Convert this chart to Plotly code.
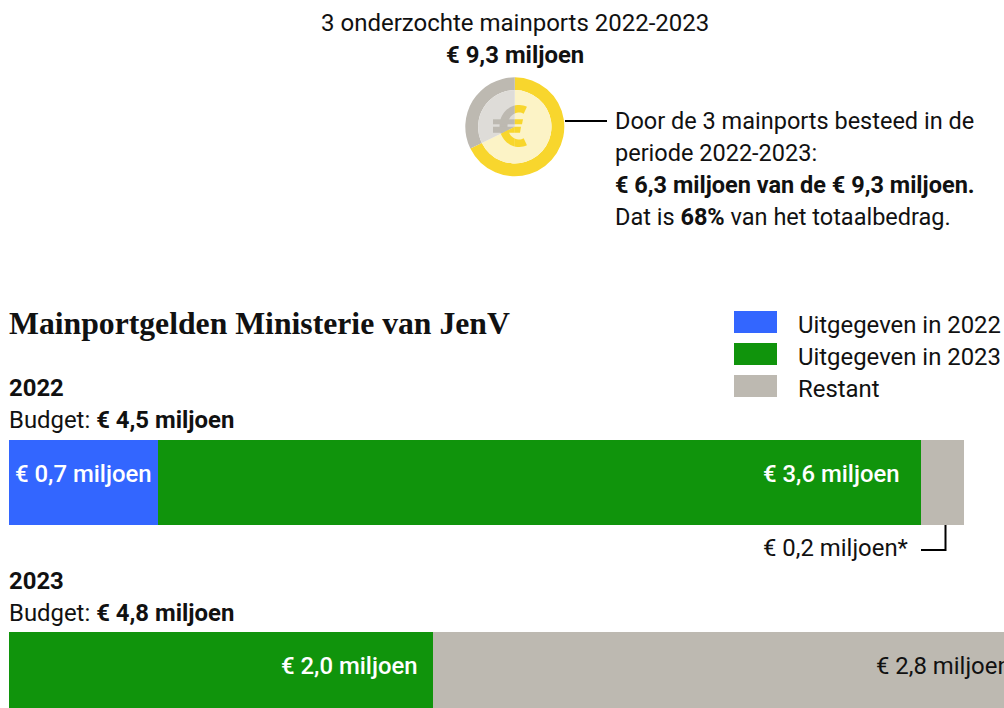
import math
import plotly.graph_objects as go

W, H = 1004, 708
years = ["2022", "2023"]
spent_2022 = [0.7, None]
spent_2023 = [3.6, 2.0]
remaining = [0.2, 2.8]
budgets = ["4,5", "4,8"]
coin_values = [6.3, 3.0]
coin_labels = ["Besteed", "Restant"]
legend_names = ["Uitgegeven in 2022", "Uitgegeven in 2023", "Restant"]

BLUE, GREEN, GREY = "#3366ff", "#10940c", "#bdb9b1"
YEL, LYEL, LGREY = "#f8d62d", "#fcf3c6", "#dedcd8"
INK = "#111111"
FONT = "Roboto"
FS = 23.9
FP = 23.5

PXU = 212.2       # pixels per million
X0 = 9
Y0, DY, BARH = 482.5, 192, 85
CX, CY, R, RI = 514.8, 126.8, 49.5, 36.7


def fmt(v):
    return f"€ {v:.1f} miljoen".replace(".", ",")


def px(x):
    return x / W


def py(y):
    return 1 - y / H


fig = go.Figure()
for name, vals, col in zip(legend_names, [spent_2022, spent_2023, remaining], [BLUE, GREEN, GREY]):
    fig.add_trace(go.Bar(y=years, x=vals, name=name, orientation="h", marker=dict(color=col, line_width=0),
                         width=BARH / DY, hoverinfo="skip", showlegend=False))

fig.add_trace(go.Pie(values=coin_values, labels=coin_labels, hole=RI / R, sort=False, direction="clockwise", rotation=0,
                     marker=dict(colors=[YEL, GREY], line_width=0), textinfo="none", hoverinfo="skip", showlegend=False,
                     domain=dict(x=[px(CX - R), px(CX + R)], y=[py(CY + R), py(CY - R)])))
fig.add_trace(go.Pie(values=coin_values, labels=coin_labels, sort=False, direction="clockwise", rotation=0,
                     marker=dict(colors=[LYEL, LGREY], line_width=0), textinfo="none", hoverinfo="skip", showlegend=False,
                     domain=dict(x=[px(CX - RI), px(CX + RI)], y=[py(CY + RI), py(CY - RI)])))

ann = []


def text(x, y, s, size=FS, anchor="left", color=INK, family=FONT):
    ann.append(dict(x=px(x), y=py(y), xref="paper", yref="paper", text=s, showarrow=False, xanchor=anchor,
                    yanchor="middle", font=dict(size=size, color=color, family=family), borderpad=0, borderwidth=0))


def bar_label(xval, yidx, s, anchor, shift, color, weight=400):
    ann.append(dict(x=xval, y=yidx, xref="x", yref="y", text=s, showarrow=False, xanchor=anchor, xshift=shift,
                    yanchor="middle", yshift=8.5, font=dict(size=FS, color=color, family=FONT, weight=weight)))


text(CX, 23, "3 onderzochte mainports 2022-2023", anchor="center", size=24)
text(CX, 55, "<b>€ 9,3 miljoen</b>", anchor="center")
text(615, 121, "Door de 3 mainports besteed in de", size=FP)
text(615, 153, "periode 2022-2023:", size=FP)
text(615, 185, "<b>€ 6,3 miljoen van de € 9,3 miljoen.</b>", size=FP)
text(615, 217, "Dat is <b>68%</b> van het totaalbedrag.", size=FP)
text(9, 323, "<b>Mainportgelden Ministerie van JenV</b>", size=31.7, family="Liberation Serif")
for name, y in zip(legend_names, [325, 357, 389]):
    text(798, y, name)
text(9, 388, f"<b>{years[0]}</b>")
text(9, 420, f"Budget: <b>€ {budgets[0]} miljoen</b>")
text(9, 581, f"<b>{years[1]}</b>")
text(9, 613, f"Budget: <b>€ {budgets[1]} miljoen</b>")
text(908, 548, fmt(remaining[0]) + "*", anchor="right")

bar_label(spent_2022[0] / 2, 0, fmt(spent_2022[0]), "center", 0, "white", 500)
bar_label(spent_2022[0] + spent_2023[0], 0, fmt(spent_2023[0]), "right", -19, "white", 500)
bar_label(spent_2023[1], 1, fmt(spent_2023[1]), "right", -13, "white", 500)
bar_label(spent_2023[1], 1, fmt(remaining[1]), "left", 441, INK)

shapes = []


def pshape(kind, x0, y0, x1, y1, **kw):
    shapes.append(dict(type=kind, xref="paper", yref="paper", x0=px(x0), x1=px(x1), y0=py(y0), y1=py(y1), **kw))


for col, y in zip([BLUE, GREEN, GREY], [311, 343, 375]):
    pshape("rect", 734, y, 777, y + 22, fillcolor=col, line_width=0)
pshape("line", 565, 121, 607, 121, line=dict(color="black", width=2))
pshape("line", 921, 550, 945.5, 550, line=dict(color="black", width=2))
pshape("line", 945.5, 525, 945.5, 551, line=dict(color="black", width=2))

# Euro icon on the coin: filled outlines, cut along the slice boundary
cxc, cyc, rxo, ryo, rxi, ryi = 519.0, 126.0, 19.5, 21.0, 11.5, 13.5
a_end = 66
arc = []
for i in range(41):
    a = math.radians(a_end + (360 - 2 * a_end) * i / 40)
    arc.append((cxc + rxo * math.cos(a), cyc + ryo * math.sin(a)))
for i in range(40, -1, -1):
    a = math.radians(a_end + (360 - 2 * a_end) * i / 40)
    arc.append((cxc + rxi * math.cos(a), cyc + ryi * math.sin(a)))
glyph = [arc,
         [(493, 119.3), (523, 119.3), (522, 124.3), (493, 124.3)],
         [(493, 126.7), (521, 126.7), (520, 132.7), (493, 132.7)]]

ang = math.radians(360 * coin_values[0] / sum(coin_values))
bx, by = math.sin(ang), -math.cos(ang)


def clip(poly, nx, ny):
    out = []
    n = len(poly)
    for i in range(n):
        p, q = poly[i], poly[(i + 1) % n]
        dp = (p[0] - CX) * nx + (p[1] - CY) * ny
        dq = (q[0] - CX) * nx + (q[1] - CY) * ny
        if dp >= 0:
            out.append(p)
        if (dp >= 0) != (dq >= 0):
            t = dp / (dp - dq)
            out.append((p[0] + t * (q[0] - p[0]), p[1] + t * (q[1] - p[1])))
    return out


def add_poly(poly, col):
    if len(poly) < 3:
        return
    d = "M" + " L".join(f"{px(a):.5f},{py(b):.5f}" for a, b in poly) + " Z"
    shapes.append(dict(type="path", xref="paper", yref="paper", path=d, fillcolor=col, line_width=0))


# normal pointing to the upper side of the boundary
nx, ny = by, -bx
if ny > 0:
    nx, ny = -nx, -ny
for poly in glyph:
    add_poly(clip(clip(poly, -1, 0), nx, ny), GREY)
    add_poly(clip(poly, 1, 0), YEL)
    add_poly(clip(clip(poly, -1, 0), -nx, -ny), YEL)

fig.update_layout(
    width=W, height=H, margin=dict(l=0, r=0, t=0, b=0), paper_bgcolor="white", plot_bgcolor="rgba(0,0,0,0)",
    barmode="stack", bargap=0, showlegend=False, annotations=ann, shapes=shapes,
    xaxis=dict(range=[-X0 / PXU, (W - X0) / PXU], visible=False, fixedrange=True),
    yaxis=dict(type="category", categoryorder="array", categoryarray=years,
               range=[(H - Y0) / DY, -Y0 / DY], visible=False, fixedrange=True),
    font=dict(family=FONT, color=INK),
)
fig.write_html("out.html", config=dict(displayModeBar=False),
               post_script="document.body.style.margin='0';document.documentElement.style.overflow='hidden';")
